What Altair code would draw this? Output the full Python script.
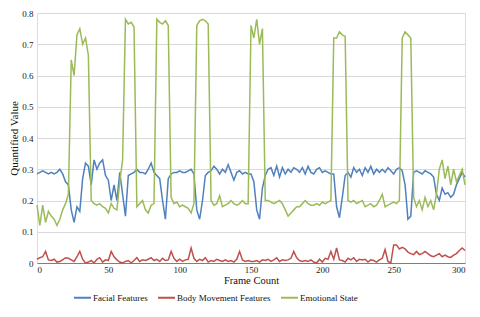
import altair as alt
import pandas as pd

frames = list(range(0, 301, 2))

facial = [
    0.285, 0.29, 0.295, 0.29, 0.285, 0.29, 0.285, 0.29, 0.30, 0.285,
    0.26, 0.25, 0.17, 0.13, 0.18, 0.165, 0.27, 0.32, 0.31, 0.25,
    0.33, 0.30, 0.32, 0.33, 0.28, 0.265, 0.20, 0.25, 0.20, 0.29,
    0.22, 0.15, 0.28, 0.285, 0.29, 0.30, 0.29, 0.29, 0.285, 0.30,
    0.32, 0.29, 0.28, 0.27, 0.20, 0.14, 0.27, 0.285, 0.29, 0.29,
    0.295, 0.29, 0.29, 0.295, 0.30, 0.285, 0.17, 0.14, 0.20, 0.28,
    0.29, 0.295, 0.31, 0.30, 0.285, 0.30, 0.29, 0.315, 0.29, 0.265,
    0.29, 0.295, 0.285, 0.29, 0.285, 0.285, 0.26, 0.17, 0.14, 0.24,
    0.28, 0.30, 0.305, 0.28, 0.31, 0.275, 0.305, 0.285, 0.30, 0.29,
    0.305, 0.30, 0.29, 0.305, 0.285, 0.31, 0.29, 0.285, 0.30, 0.305,
    0.29, 0.295, 0.29, 0.285, 0.285, 0.18, 0.145, 0.21, 0.28, 0.29,
    0.275, 0.305, 0.29, 0.30, 0.28, 0.305, 0.29, 0.31, 0.285, 0.30,
    0.29, 0.30, 0.29, 0.305, 0.295, 0.285, 0.30, 0.305, 0.295, 0.25,
    0.14, 0.15, 0.29, 0.295, 0.29, 0.285, 0.295, 0.29, 0.285, 0.275,
    0.22, 0.20, 0.24, 0.22, 0.225, 0.21, 0.22, 0.25, 0.27, 0.29,
    0.275,
]

body = [
    0.012, 0.017, 0.02, 0.037, 0.01, 0.008, 0.012, 0.003, 0.005, 0.01,
    0.017, 0.015, 0.01, 0.005, 0.02, 0.037, 0.012, 0.0, 0.003, 0.008,
    0.0, 0.012, 0.017, 0.003, 0.01, 0.008, 0.037, 0.02, 0.01, 0.003,
    0.0, 0.005, 0.008, 0.0, 0.008, 0.017, 0.005, 0.01, 0.008, 0.012,
    0.017, 0.008, 0.012, 0.005, 0.015, 0.008, 0.01, 0.037, 0.015, 0.005,
    0.012, 0.005, 0.01, 0.012, 0.048, 0.015, 0.005, 0.012, 0.008, 0.017,
    0.003, 0.008, 0.005, 0.012, 0.008, 0.005, 0.01, 0.005, 0.008, 0.003,
    0.012, 0.037, 0.01, 0.005, 0.008, 0.005, 0.005, 0.008, 0.003, 0.01,
    0.008, 0.012, 0.005, 0.01, 0.017, 0.005, 0.01, 0.008, 0.01, 0.015,
    0.037, 0.017, 0.008, 0.005, 0.008, 0.005, 0.01, 0.003, 0.0, 0.012,
    0.003, 0.015, 0.012, 0.037, 0.012, 0.048, 0.01, 0.008, 0.003, 0.015,
    0.01, 0.017, 0.005, 0.012, 0.01, 0.012, 0.003, 0.01, 0.008, 0.003,
    0.01, 0.015, 0.043, 0.005, 0.0, 0.058, 0.058, 0.045, 0.05, 0.045,
    0.035, 0.03, 0.027, 0.037, 0.027, 0.03, 0.037, 0.03, 0.023, 0.02,
    0.025, 0.03, 0.02, 0.025, 0.02, 0.018, 0.025, 0.03, 0.04, 0.048,
    0.04,
]

emotional = [
    0.185, 0.12, 0.185, 0.13, 0.165, 0.15, 0.14, 0.12, 0.14, 0.17,
    0.19, 0.22, 0.65, 0.60, 0.73, 0.75, 0.70, 0.72, 0.665, 0.20,
    0.19, 0.185, 0.19, 0.18, 0.175, 0.16, 0.19, 0.175, 0.17, 0.26,
    0.33, 0.78, 0.765, 0.77, 0.755, 0.18, 0.19, 0.20, 0.17, 0.16,
    0.185, 0.19, 0.78, 0.77, 0.765, 0.775, 0.76, 0.21, 0.19, 0.195,
    0.18, 0.185, 0.18, 0.175, 0.16, 0.19, 0.76, 0.775, 0.78, 0.775,
    0.765, 0.20, 0.185, 0.19, 0.215, 0.18, 0.185, 0.19, 0.20, 0.19,
    0.185, 0.19, 0.20, 0.19, 0.19, 0.76, 0.72, 0.78, 0.70, 0.75,
    0.20, 0.20, 0.195, 0.19, 0.195, 0.20, 0.19, 0.17, 0.15, 0.16,
    0.17, 0.18, 0.18, 0.19, 0.20, 0.19, 0.185, 0.185, 0.19, 0.185,
    0.195, 0.19, 0.195, 0.20, 0.72, 0.72, 0.74, 0.73, 0.725, 0.20,
    0.195, 0.20, 0.19, 0.195, 0.20, 0.18, 0.185, 0.19, 0.18, 0.185,
    0.20, 0.22, 0.18, 0.185, 0.19, 0.195, 0.19, 0.20, 0.72, 0.74,
    0.73, 0.72, 0.21, 0.18, 0.20, 0.17, 0.21, 0.18, 0.20, 0.17,
    0.22, 0.30, 0.33, 0.27, 0.31, 0.25, 0.30, 0.26, 0.28, 0.30,
    0.25,
]

series_names = ["Facial Features", "Body Movement Features", "Emotional State"]
series_colors = ["#4F81BD", "#C0504D", "#9BBB59"]
x_ticks = [0, 50, 100, 150, 200, 250, 300]
y_ticks = [0, 0.1, 0.2, 0.3, 0.4, 0.5, 0.6, 0.7, 0.8]

rows = []
for name, vals in zip(series_names, [facial, body, emotional]):
    for f, v in zip(frames, vals):
        rows.append({"frame": f, "value": v, "series": name})
df = pd.DataFrame(rows)

FONT = "Liberation Serif"

chart = (
    alt.Chart(df)
    .mark_line(strokeWidth=1.5)
    .encode(
        x=alt.X(
            "frame:Q",
            scale=alt.Scale(domain=[0, 300], nice=False),
            axis=alt.Axis(
                values=x_ticks,
                title="Frame Count",
                grid=False,
                ticks=False,
                domainColor="#7f7f7f",
                labelFont=FONT,
                labelFontSize=9,
                labelColor="#222222",
                labelPadding=2,
                titleFont=FONT,
                titleFontSize=10.5,
                titleFontWeight="normal",
                titleColor="#111111",
                titlePadding=1,
            ),
        ),
        y=alt.Y(
            "value:Q",
            scale=alt.Scale(domain=[0, 0.8], nice=False),
            axis=alt.Axis(
                values=y_ticks,
                format="~g",
                title="Quantified Value",
                grid=True,
                gridColor="#d9d9d9",
                ticks=False,
                domain=False,
                labelFont=FONT,
                labelFontSize=9,
                labelColor="#222222",
                labelPadding=4,
                titleFont=FONT,
                titleFontSize=11,
                titleFontWeight="normal",
                titleColor="#111111",
                titlePadding=2,
            ),
        ),
        color=alt.Color(
            "series:N",
            title=None,
            sort=series_names,
            scale=alt.Scale(domain=series_names, range=series_colors),
            legend=alt.Legend(
                orient="none",
                legendX=36,
                legendY=275,
                direction="horizontal",
                symbolType="stroke",
                symbolSize=289,
                symbolStrokeWidth=2,
                labelFont=FONT,
                labelFontSize=9,
                labelColor="#111111",
                labelOffset=1,
                columnPadding=6,
                padding=0,
            ),
        ),
    )
    .properties(
        width=428,
        height=250,
        autosize=alt.AutoSizeParams(type="none"),
        padding={"left": 29, "top": 5, "right": 7, "bottom": 42},
    )
    .configure_view(stroke="#8c8c8c", strokeWidth=1)
    .configure(font=FONT)
)

chart.save("out.html", embed_options={"renderer": "svg", "actions": False})
